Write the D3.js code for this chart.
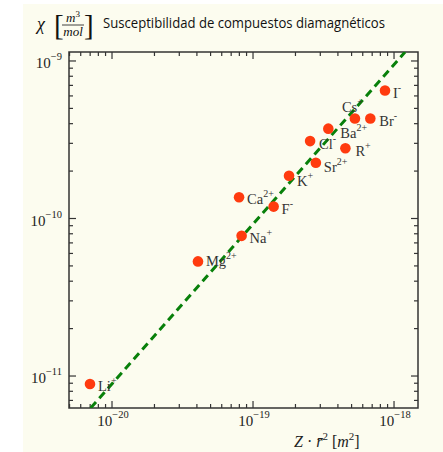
<!DOCTYPE html>
<html><head><meta charset="utf-8">
<script src="https://cdn.jsdelivr.net/npm/d3@7"></script>
<style>
html,body{margin:0;padding:0;background:#ffffff;}
svg{display:block;}
</style></head>
<body>
<svg id="chart" width="443" height="452"></svg>
<script>
// ---- data ----
const ions    = ["Li","Mg","Na","Ca","F","K","Sr","Cl","R","Ba","Cs","Br","I"];
const charges = ["+","2+","+","2+","-","+","2+","-","+","2+","+","-","-"];
const zr2     = [6.98e-21,4.07e-20,8.3e-20,7.96e-20,1.40e-19,1.80e-19,2.79e-19,2.54e-19,4.52e-19,3.42e-19,5.28e-19,6.79e-19,8.63e-19];
const chi     = [8.9e-12,5.34e-11,7.76e-11,1.365e-10,1.19e-10,1.87e-10,2.26e-10,3.10e-10,2.79e-10,3.72e-10,4.31e-10,4.31e-10,6.50e-10];
const fitX    = [7.06e-21, 1.197e-18];
const fitY    = [6.27e-12, 1.14e-9];
const xDecades = [-20,-19,-18];
const yDecades = [-11,-10,-9];
const xDomain = [Math.pow(10,-20.305), Math.pow(10,-17.83)];
const yDomain = [Math.pow(10,-11.203), Math.pow(10,-8.943)];

// ---- layout (not data) ----
const labelOffsets = {
  Li:[8,7], Mg:[8,5], Na:[8,7], Ca:[8,7], F:[8,7], K:[8,10], Sr:[8,9],
  Cl:[9,8], R:[10,8], Ba:[12,9], Cs:[-13,-7], Br:[9,7], I:[8,8]
};
const L=69, R=418, T=52, B=408;

const svg = d3.select("#chart");
svg.append("rect").attr("x",23).attr("y",4).attr("width",420).attr("height",448).attr("fill","#fcfcef");

const x = d3.scaleLog().domain(xDomain).range([L,R]);
const y = d3.scaleLog().domain(yDomain).range([B,T]);

function tickVals(scale){
  const [a,b]=scale.domain();
  const out=[];
  const d0=Math.floor(Math.log10(a)), d1=Math.ceil(Math.log10(b));
  for(let d=d0; d<=d1; d++){
    for(let m=1;m<=9;m++){
      const v=m*Math.pow(10,d);
      if(v>=a && v<=b) out.push({v, major:m===1});
    }
  }
  return out;
}
const axisColor="#333";
const g = svg.append("g");
const xt = tickVals(x), yt = tickVals(y);
xt.forEach(t=>{
  const len = t.major?7:4;
  g.append("line").attr("x1",x(t.v)).attr("x2",x(t.v)).attr("y1",B).attr("y2",B-len).attr("stroke",axisColor).attr("stroke-width",1.2);
  g.append("line").attr("x1",x(t.v)).attr("x2",x(t.v)).attr("y1",T).attr("y2",T+len).attr("stroke",axisColor).attr("stroke-width",1.2);
});
yt.forEach(t=>{
  const len = t.major?7:4;
  g.append("line").attr("y1",y(t.v)).attr("y2",y(t.v)).attr("x1",L).attr("x2",L+len).attr("stroke",axisColor).attr("stroke-width",1.2);
  g.append("line").attr("y1",y(t.v)).attr("y2",y(t.v)).attr("x1",R).attr("x2",R-len).attr("stroke",axisColor).attr("stroke-width",1.2);
});
g.append("rect").attr("x",L).attr("y",T).attr("width",R-L).attr("height",B-T)
  .attr("fill","none").attr("stroke",axisColor).attr("stroke-width",1.5);

const serif = "'Liberation Serif','DejaVu Serif',serif";
xDecades.forEach(d=>{
  const t = svg.append("text").attr("x",x(Math.pow(10,d))+1).attr("y",426)
    .attr("text-anchor","middle").attr("font-family",serif).attr("font-size",15).attr("fill","#222");
  t.append("tspan").text("10");
  t.append("tspan").attr("dy",-8).attr("font-size",10.5).text("−"+(-d));
});
yDecades.forEach(d=>{
  const t = svg.append("text").attr("x",62).attr("y",y(Math.pow(10,d))+7)
    .attr("text-anchor","end").attr("font-family",serif).attr("font-size",15).attr("fill","#222");
  t.append("tspan").text("10");
  t.append("tspan").attr("dy",-8).attr("font-size",10.5).text("−"+(-d));
});

svg.append("clipPath").attr("id","pa").append("rect").attr("x",L).attr("y",T).attr("width",R-L).attr("height",B-T);
svg.append("line").attr("clip-path","url(#pa)")
  .attr("x1",x(fitX[0])).attr("y1",y(fitY[0])).attr("x2",x(fitX[1])).attr("y2",y(fitY[1]))
  .attr("stroke","#08800a").attr("stroke-width",3).attr("stroke-dasharray","8,5");

const pts = ions.map((n,i)=>({n, c:charges[i], x:zr2[i], y:chi[i]}));
svg.selectAll("circle.pt").data(pts).enter().append("circle")
  .attr("cx",d=>x(d.x)).attr("cy",d=>y(d.y)).attr("r",5.3).attr("fill","#ff3b0f");

pts.forEach(d=>{
  const o = labelOffsets[d.n];
  const t = svg.append("text").attr("x",x(d.x)+o[0]).attr("y",y(d.y)+o[1])
    .attr("font-family",serif).attr("font-size",14.5).attr("fill","#333");
  t.append("tspan").text(d.n);
  t.append("tspan").attr("dy",-7).attr("font-size",10).text(d.c);
});

const xl = svg.append("text").attr("x",294).attr("y",447).attr("font-family",serif).attr("font-size",16).attr("fill","#222");
xl.append("tspan").attr("font-style","italic").text("Z");
xl.append("tspan").text(" · ");
xl.append("tspan").attr("font-style","italic").text("r̄");
xl.append("tspan").attr("dy",-7).attr("font-size",11).text("2");
xl.append("tspan").attr("dy",7).text(" [");
xl.append("tspan").attr("font-style","italic").text("m");
xl.append("tspan").attr("dy",-7).attr("font-size",11).text("2");
xl.append("tspan").attr("dy",7).text("]");

svg.append("text").attr("x",37).attr("y",30).attr("font-family",serif).attr("font-style","italic").attr("font-size",18).attr("fill","#111").text("χ");
svg.append("text").attr("x",54).attr("y",35).attr("font-family",serif).attr("font-size",29).attr("fill","#111").text("[");
svg.append("text").attr("x",84).attr("y",35).attr("font-family",serif).attr("font-size",29).attr("fill","#111").text("]");
const num = svg.append("text").attr("x",73).attr("y",22).attr("text-anchor","middle").attr("font-family",serif).attr("font-size",13).attr("fill","#111");
num.append("tspan").attr("font-style","italic").text("m");
num.append("tspan").attr("dy",-5).attr("font-size",9).text("3");
svg.append("line").attr("x1",62).attr("x2",84).attr("y1",25).attr("y2",25).attr("stroke","#111").attr("stroke-width",0.8);
svg.append("text").attr("x",73).attr("y",36).attr("text-anchor","middle").attr("font-family",serif).attr("font-style","italic").attr("font-size",13).attr("fill","#111").text("mol");
svg.append("text").attr("x",103).attr("y",28).attr("font-family","'Open Sans','Liberation Sans',sans-serif").attr("font-size",13.6).attr("fill","#111")
  .attr("textLength",282).attr("lengthAdjust","spacingAndGlyphs")
  .text("Susceptibilidad de compuestos diamagnéticos");
</script>
</body></html>
